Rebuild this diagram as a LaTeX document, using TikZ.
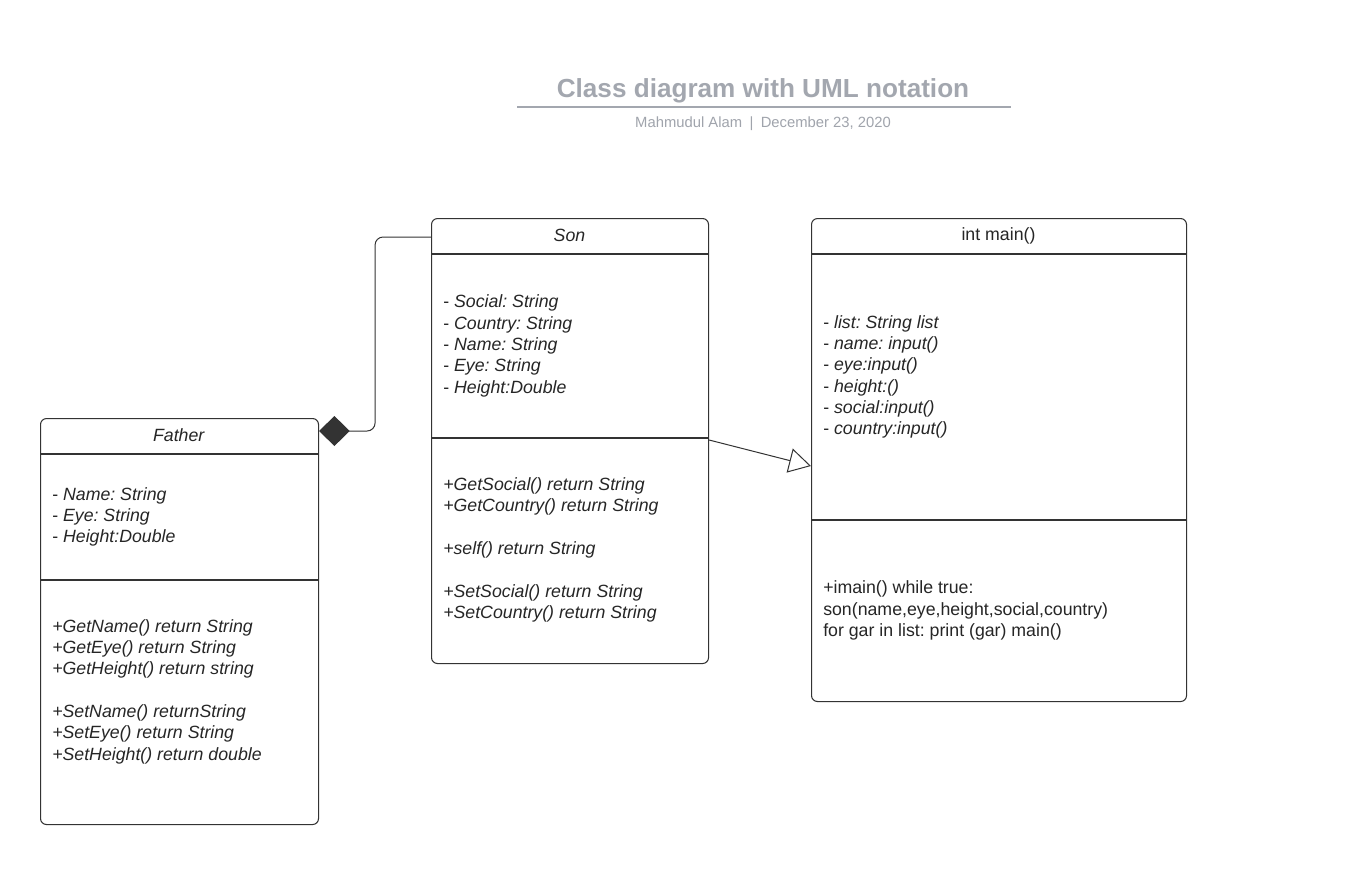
\documentclass[tikz,border=0pt]{standalone}
\usepackage{fontspec}
\setmainfont{Liberation Sans}
\usetikzlibrary{arrows.meta}
\definecolor{linec}{HTML}{333333}
\definecolor{titlec}{HTML}{A3A7AF}
\definecolor{subc}{HTML}{A0A4AC}
\frenchspacing
\begin{document}
\begin{tikzpicture}[x=0.75pt,y=-0.75pt,
  classbox/.style={draw=linec,line width=0.8pt,rounded corners=4.5pt,fill=none,inner sep=0pt,anchor=north west},
  divider/.style={draw=linec,line width=0.8pt},
  hdr/.style={inner sep=0pt,font=\fontsize{13.3}{16}\selectfont,text=black!85},
  body/.style={inner sep=0pt,align=left,anchor=west,font=\fontsize{13.3}{16}\selectfont\frenchspacing,text=black!85},
  comp/.style={draw=linec,line width=0.75pt,rounded corners=6pt,{Diamond[length=23pt,width=22.5pt,fill=linec]}-},
  gen/.style={draw=linec,line width=0.75pt,-{Triangle[open,length=16.5pt,width=18.5pt,fill=white]}}]
\useasboundingbox[fill=white] (0,0) rectangle (1365,878);
% title
\node[inner sep=0pt,font=\fontsize{19.6}{22}\selectfont\bfseries,text=titlec] (title) at (763,91) {Class diagram with UML notation};
\coordinate (tl) at (517,107);
\coordinate (tr) at (1011,107);
\draw[titlec,line width=1.5pt] (tl) -- (tr);
\node[inner sep=0pt,font=\fontsize{11.1}{13}\selectfont,text=subc] (sub) at (763,124) {Mahmudul Alam\enspace|\enspace December 23, 2020};
% Father
\node[classbox,minimum width=208.5pt,minimum height=304.5pt] (father) at (40,418) {};
\draw[divider] (father.west |- 0,454) -- (father.east |- 0,454);
\draw[divider] (father.west |- 0,580) -- (father.east |- 0,580);
\node[hdr] (fatherT) at (179,435) {\textit{Father}};
\node[body] (fatherA) at (52,517) {- \textit{Name: String}\\- \textit{Eye: String}\\- \textit{Height:Double}};
\node[body] (fatherM) at (52,691.5) {\textit{+GetName() return String}\\\textit{+GetEye() return String}\\\textit{+GetHeight() return string}\\[16pt]\textit{+SetName() returnString}\\\textit{+SetEye() return String}\\\textit{+SetHeight() return double}};
% Son
\node[classbox,minimum width=207.75pt,minimum height=333.75pt] (son) at (431,218) {};
\draw[divider] (son.west |- 0,254) -- (son.east |- 0,254);
\draw[divider] (son.west |- 0,438) -- (son.east |- 0,438);
\node[hdr] (sonT) at (569.5,235) {\textit{Son}};
\node[body] (sonA) at (443,346) {- \textit{Social: String}\\- \textit{Country: String}\\- \textit{Name: String}\\- \textit{Eye: String}\\- \textit{Height:Double}};
\node[body] (sonM) at (443,550) {\textit{+GetSocial() return String}\\\textit{+GetCountry() return String}\\[16pt]\textit{+self() return String}\\[16pt]\textit{+SetSocial() return String}\\\textit{+SetCountry() return String}};
% main
\node[classbox,minimum width=281.25pt,minimum height=362.25pt] (main) at (811,218) {};
\draw[divider] (main.west |- 0,254) -- (main.east |- 0,254);
\draw[divider] (main.west |- 0,520) -- (main.east |- 0,520);
\node[hdr] (mainT) at (998.5,235.5) {int main()};
\node[body] (mainA) at (823,377) {- \textit{list: String list}\\- \textit{name: input()}\\- \textit{eye:input()}\\- \textit{height:()}\\- \textit{social:input()}\\- \textit{country:input()}};
\node[body] (mainM) at (823,610.5) {+imain() while true:\\son(name,eye,height,social,country)\\for gar in list: print (gar) main()};
% connectors
\coordinate (fatherD) at ([yshift=-9.75pt]father.north east);
\coordinate (sonD) at ([yshift=-14.25pt]son.north west);
\draw[comp] (fatherD) -- ++(56,0) |- (sonD);
\coordinate (sonG) at ([yshift=-166.5pt]son.north east);
\coordinate (mainG) at ([yshift=-186pt]main.north west);
\draw[gen] (sonG) -- (mainG);
\end{tikzpicture}
\end{document}
